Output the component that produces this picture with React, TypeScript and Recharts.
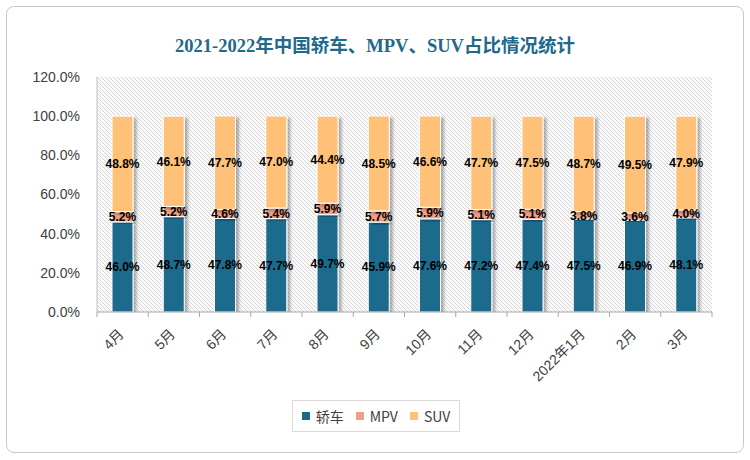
import { BarChart, Bar, XAxis, YAxis, CartesianGrid, LabelList } from "recharts";

const months = ["4月", "5月", "6月", "7月", "8月", "9月", "10月", "11月", "12月", "2022年1月", "2月", "3月"];
const sedan = [46.0, 48.7, 47.8, 47.7, 49.7, 45.9, 47.6, 47.2, 47.4, 47.5, 46.9, 48.1];
const mpv = [5.2, 5.2, 4.6, 5.4, 5.9, 5.7, 5.9, 5.1, 5.1, 3.8, 3.6, 4.0];
const suv = [48.8, 46.1, 47.7, 47.0, 44.4, 48.5, 46.6, 47.7, 47.5, 48.7, 49.5, 47.9];
const yTicks = [0, 20, 40, 60, 80, 100, 120];

const data = months.map((m, i) => ({ month: m, sedan: sedan[i], mpv: mpv[i], suv: suv[i] }));

const series = [
  { key: "sedan", name: "轿车", color: "#1d6a8c" },
  { key: "mpv", name: "MPV", color: "#ee9f84" },
  { key: "suv", name: "SUV", color: "#ffc177" },
];

const band = 615 / months.length;

const MonthTick = (props: any) => {
  const { x, y, payload, index } = props;
  const ax = x + 2;
  const ay = y + 15;
  return (
    <g>
      <line x1={x - band / 2} y1={y - 8} x2={x - band / 2} y2={y - 3} stroke="#a6a6a6" />
      {index === months.length - 1 && (
        <line x1={x + band / 2} y1={y - 8} x2={x + band / 2} y2={y - 3} stroke="#a6a6a6" />
      )}
      <text x={ax} y={ay} textAnchor="end" fontSize={14} fill="#404040" transform={`rotate(-45 ${ax} ${ay})`}>
        {payload.value}
      </text>
    </g>
  );
};

const fmt = (v: any) => `${Number(v).toFixed(1)}%`;

export default function App() {
  return (
    <div style={{ position: "absolute", left: 0, top: 0, width: 750, height: 460, background: "#fff", fontFamily: "'Liberation Sans', 'Noto Sans CJK SC', sans-serif" }}>
      <svg width={0} height={0} style={{ position: "absolute" }}>
        <defs>
          <pattern id="hatch" width={4} height={4} patternUnits="userSpaceOnUse">
            <rect width={4} height={4} fill="#fafafa" />
            <path d="M-1,-1 l2,2 M0,0 l4,4 M3,3 l2,2" stroke="#d6d6d6" strokeWidth={1} />
          </pattern>
          <filter id="shadow" x="-30%" y="-10%" width="180%" height="130%">
            <feDropShadow dx={3} dy={2} stdDeviation={1.5} floodColor="#000" floodOpacity={0.3} />
          </filter>
        </defs>
      </svg>
      <div style={{ position: "absolute", left: 6, top: 6, width: 736, height: 445, border: "1px solid #c8c8c8", borderRadius: 8 }} />
      <div
        style={{
          position: "absolute",
          left: 0,
          top: 31,
          width: 750,
          textAlign: "center",
          fontSize: 18.5,
          fontWeight: "bold",
          color: "#21698b",
          fontFamily: "'Liberation Serif', 'Noto Sans CJK SC', serif",
        }}
      >
        2021-2022年中国轿车、MPV、SUV占比情况统计
      </div>
      <BarChart
        width={750}
        height={460}
        data={data}
        margin={{ top: 77, right: 38, left: 37, bottom: 0 }}
        style={{ position: "absolute", left: 0, top: 0 }}
      >
        <CartesianGrid horizontal={false} vertical={false} fill="url(#hatch)" />
        <XAxis
          dataKey="month"
          tick={<MonthTick />}
          tickLine={false}
          axisLine={{ stroke: "#a6a6a6" }}
          interval={0}
          height={148}
        />
        <YAxis
          width={60}
          domain={[0, 120]}
          ticks={yTicks}
          tickFormatter={fmt}
          tickLine={false}
          axisLine={{ stroke: "#bfbfbf" }}
          tick={{ fontSize: 14, fill: "#404040" }}
          tickMargin={11}
          allowDataOverflow
        />
        {series.map((s) => (
          <Bar
            key={s.key}
            dataKey={s.key}
            name={s.name}
            stackId="a"
            barSize={21}
            fill={s.color}
            stroke="#fff"
            strokeWidth={1}
            filter="url(#shadow)"
            isAnimationActive={false}
          >
            <LabelList dataKey={s.key} position="center" formatter={fmt} fill="#000" fontSize={12} fontWeight="bold" />
          </Bar>
        ))}
      </BarChart>
      <div
        style={{
          position: "absolute",
          left: 292,
          top: 400,
          width: 168,
          height: 32,
          border: "1px solid #d9d9d9",
          boxSizing: "border-box",
          display: "flex",
          alignItems: "center",
          justifyContent: "center",
          gap: 12,
          fontSize: 14,
          color: "#404040",
          fontFamily: "'Noto Sans CJK SC', sans-serif",
        }}
      >
        {series.map((s) => (
          <span key={s.key} style={{ display: "flex", alignItems: "center" }}>
            <span style={{ width: 8, height: 8, background: s.color, marginRight: 6 }} />
            {s.name}
          </span>
        ))}
      </div>
    </div>
  );
}
